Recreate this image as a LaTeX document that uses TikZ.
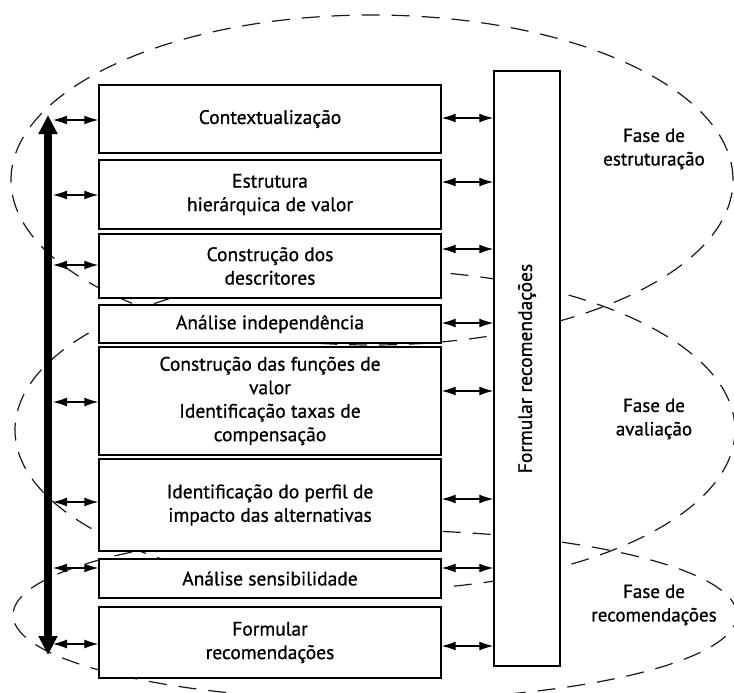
\documentclass[tikz,border=0pt]{standalone}
\usepackage{fontspec}
\setmainfont{PT Sans}[FakeBold=0.8]
\usetikzlibrary{arrows.meta}
\begin{document}
\begin{tikzpicture}[x=1pt,y=-1pt,
  box/.style={draw, line width=1.4pt, fill=white, minimum width=342pt, align=center, inner sep=0pt,
    font=\fontsize{19.5}{23.5}\selectfont},
  phase/.style={align=center, font=\fontsize{19}{23.5}\selectfont},
  dbl/.style={{Latex[length=14pt,width=9pt]}-{Latex[length=14pt,width=9pt]}, line width=1.2pt},
  bigarrow/.style={{Triangle[length=19pt,width=18pt]}-{Triangle[length=19pt,width=18pt]}, line width=7.5pt},
  ell/.style={dash pattern=on 18pt off 12pt, line width=1.2pt, black!90}
]
\clip (0,0) rectangle (734,693);
\useasboundingbox (0,0) rectangle (734,693);

% dashed phase ellipses
\draw[ell] (372,180) ellipse [x radius=361pt, y radius=165pt];
\draw[ell] (375,430) ellipse [x radius=360pt, y radius=160pt];
\draw[ell] (375,615) ellipse [x radius=362pt, y radius=85pt];

% boxes
\node[box, minimum height=68pt]  (b1) at (270,119)   {Contextualização};
\node[box, minimum height=69pt]  (b2) at (270,194.5) {Estrutura\\hierárquica de valor};
\node[box, minimum height=64pt]  (b3) at (270,266)   {Construção dos\\descritores};
\node[box, minimum height=38pt]  (b4) at (270,324)   {Análise independência};
\node[box, minimum height=108pt] (b5) at (270,401)   {Construção das funções de\\valor\\Identificação taxas de\\compensação};
\node[box, minimum height=92pt]  (b6) at (270,505)   {Identificação do perfil de\\impacto das alternativas};
\node[box, minimum height=39pt]  (b7) at (270,578.5) {Análise sensibilidade};
\node[box, minimum height=71pt]  (b8) at (270,642.5) {Formular\\recomendações};

\node[draw, line width=1.4pt, fill=white, minimum width=66pt, minimum height=595pt, inner sep=0pt] (F) at (527,368.5) {};
\node[rotate=90, font=\fontsize{19.5}{23}\selectfont] (Ft) at (F.center) {Formular recomendações};

% phase labels
\node[phase] (p1) at (654,149) {Fase de\\estruturação};
\node[phase] (p2) at (654,419) {Fase de\\avaliação};
\node[phase] (p3) at (654,605) {Fase de\\recomendações};

% thick vertical arrow
\coordinate (top) at (48,115);
\coordinate (bot) at (48,655);
\draw[bigarrow] (top) -- (bot);
\coordinate (ax) at (53,0);

% left arrows
\draw[dbl] (ax |- 0,120) -- (b1.west |- 0,120);
\draw[dbl] (ax |- 0,195) -- (b2.west |- 0,195);
\draw[dbl] (ax |- 0,265) -- (b3.west |- 0,265);
\draw[dbl] (ax |- 0,402) -- (b5.west |- 0,402);
\draw[dbl] (ax |- 0,502) -- (b6.west |- 0,502);
\draw[dbl] (ax |- 0,568) -- (b7.west |- 0,568);
\draw[dbl] (ax |- 0,644) -- (b8.west |- 0,644);

% right arrows
\draw[dbl] (b1.east |- 0,118) -- (F.west |- 0,118);
\draw[dbl] (b2.east |- 0,182) -- (F.west |- 0,182);
\draw[dbl] (b3.east |- 0,249) -- (F.west |- 0,249);
\draw[dbl] (b4.east |- 0,323) -- (F.west |- 0,323);
\draw[dbl] (b5.east |- 0,391) -- (F.west |- 0,391);
\draw[dbl] (b6.east |- 0,499) -- (F.west |- 0,499);
\draw[dbl] (b7.east |- 0,568) -- (F.west |- 0,568);
\draw[dbl] (b8.east |- 0,646) -- (F.west |- 0,646);
\end{tikzpicture}
\end{document}
